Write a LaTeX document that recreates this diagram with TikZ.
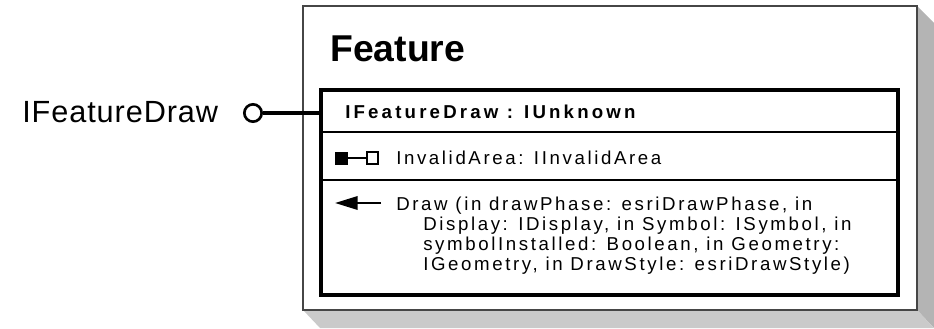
\documentclass[tikz,border=0pt]{standalone}
\usepackage{fontspec}
\setmainfont{Liberation Sans}
\newfontfamily\bodyfont[LetterSpace=14]{Liberation Sans}
\newfontfamily\headfont[LetterSpace=17]{Liberation Sans}
\newfontfamily\labelfont[LetterSpace=3]{Liberation Sans}
\usetikzlibrary{arrows.meta}
\definecolor{shadeR}{RGB}{180,180,180}
\definecolor{shadeB}{RGB}{202,202,202}
\definecolor{frame}{RGB}{70,70,70}
\tikzset{
  classbox/.style={draw=frame, line width=0.8pt, fill=white, inner sep=0pt},
  ifacebox/.style={draw=black, line width=2.3pt, inner sep=0pt},
  rowline/.style={line width=0.8pt, black},
  txt/.style={anchor=base west, inner sep=0pt, font=\bodyfont\fontsize{14pt}{16pt}\selectfont},
  lolli/.style={circle, draw=black, line width=2pt, fill=white, minimum size=13pt, inner sep=0pt},
  wire/.style={line width=2.3pt, black},
}
\begin{document}
\begin{tikzpicture}[x=0.75pt, y=-0.75pt]
\useasboundingbox (0,0) rectangle (934,328);
% drop shadow of the class box
\fill[shadeR] (917,6) -- (934,23) -- (934,328) -- (917,310) -- cycle;
\fill[shadeB] (303,310) -- (320,328) -- (934,328) -- (917,310) -- cycle;
% class box
\node[classbox, minimum width=460.5pt, minimum height=228pt] (cls) at (610,158) {};
\node[anchor=base west, inner sep=0pt, font=\fontsize{28pt}{32pt}\selectfont\bfseries] (title) at (330,62) {Feature};
% interface box
\node[ifacebox, minimum width=432.75pt, minimum height=153.75pt] (ifc) at (609.5,192.5) {};
\coordinate (sepA) at (321,132);
\coordinate (sepB) at (321,180);
\draw[rowline] (sepA) -- (sepA -| ifc.east);
\draw[rowline] (sepB) -- (sepB -| ifc.east);
\node[anchor=base west, inner sep=0pt, font=\headfont\fontsize{14pt}{16pt}\selectfont\bfseries] (hdr) at (345,118) {IFeatureDraw : IUnknown};
% property row
\node[draw=black, fill=black, line width=0.6pt, minimum size=9pt, inner sep=0pt] (pfill) at (341.5,158) {};
\node[draw=black, fill=white, line width=1.6pt, minimum size=8.5pt, inner sep=0pt] (popen) at (372.5,158) {};
\draw[line width=1.6pt] (pfill) -- (popen);
\node[txt] (prop) at (396,164) {InvalidArea: IInvalidArea};
% method row
\coordinate (mtail) at (381,203);
\coordinate (mhead) at (335,203);
\draw[line width=1.8pt, -{Triangle[length=17pt, width=10pt]}] (mtail) -- (mhead);
\node[txt] (m1) at (396,210) {Draw (in drawPhase: esriDrawPhase, in};
\node[txt] (m2) at (423,230) {Display: IDisplay, in Symbol: ISymbol, in};
\node[txt] (m3) at (423,250) {symbolInstalled: Boolean, in Geometry:};
\node[txt] (m4) at (423,270) {IGeometry, in DrawStyle: esriDrawStyle)};
% lollipop interface
\node[lolli] (lp) at (253,113) {};
\draw[wire] (lp.east) -- (lp.east -| ifc.west);
\node[anchor=base west, inner sep=0pt, font=\labelfont\fontsize{23pt}{27pt}\selectfont] (lbl) at (22,122) {IFeatureDraw};
\end{tikzpicture}
\end{document}
